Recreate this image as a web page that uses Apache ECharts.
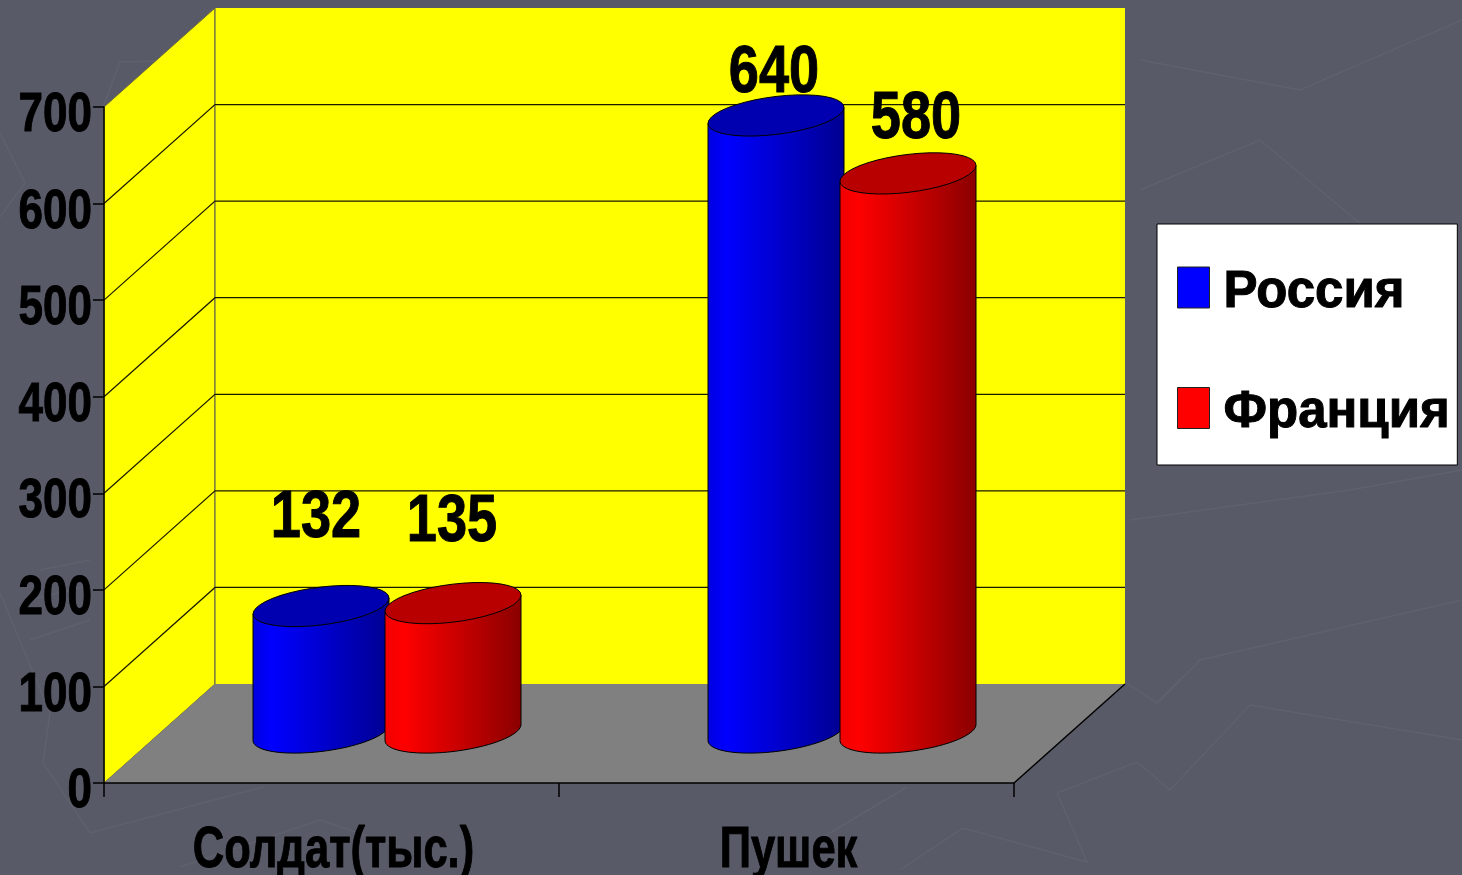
<!DOCTYPE html>
<html><head><meta charset="utf-8">
<style>html,body{margin:0;padding:0;background:#585a68}#c{width:1462px;height:875px}</style>
<script src="https://cdn.jsdelivr.net/npm/echarts@6/dist/echarts.min.js"></script>
</head><body><div id="c"></div>
<script>
const categories = ['Солдат(тыс.)', 'Пушек'];
const russia = [132, 640];
const france = [135, 580];
const yTicks = [0, 100, 200, 300, 400, 500, 600, 700];
const seriesNames = ['Россия', 'Франция'];

const FONT = '"Liberation Sans",Arial,sans-serif';
const DX = 111, DY = -99, RX = 68, RY = 19, TILT = 8, OFFSET = 66;
const labelShift = [[[-5, -87], [-1, -80]], [[-2, -42], [8, -54]]];

function squeezed(x, y, text, size, scale, align) {
  return { type: 'text', x: x, y: y, scaleX: scale, z2: 100, silent: true,
    style: { x: 0, y: 0, text: text, align: align, verticalAlign: 'middle', fill: '#000',
      stroke: '#000', lineWidth: 1, font: 'bold ' + size + 'px ' + FONT } };
}
function ellipsePts(cx, cy, from, to) {
  const pts = [], n = 40;
  for (let i = 0; i <= n; i++) {
    const t = from + (to - from) * i / n;
    pts.push([cx + RX * Math.cos(t), cy + RY * Math.sin(t) - TILT * Math.cos(t)]);
  }
  return pts;
}
function cylinder(seriesIdx, body, top) {
  return function (params, api) {
    const cat = api.value(0), v = api.value(1);
    const base = api.coord([cat, 0]), head = api.coord([cat, v]);
    const cx = base[0] + DX / 2 + (seriesIdx ? OFFSET : -OFFSET);
    const by = base[1] + DY / 2 - 1, ty = head[1] + DY / 2;
    const poly = [[cx - RX, ty + TILT]];
    for (let t = 0; t <= 40; t++) {
      const a = Math.PI - Math.PI * t / 40;
      poly.push([cx + RX * Math.cos(a), by + RY * Math.sin(a) - TILT * Math.cos(a)]);
    }
    poly.push([cx + RX, ty - TILT]);
    const shift = labelShift[cat][seriesIdx];
    return {
      type: 'group',
      children: [
        { type: 'polygon', shape: { points: poly }, style: {
            fill: { type: 'linear', x: 0, y: 0, x2: 1, y2: 0, colorStops: body },
            stroke: '#000', lineWidth: 1 } },
        { type: 'polygon', shape: { points: ellipsePts(cx, ty, 0, Math.PI * 2) },
          style: { fill: top, stroke: '#000', lineWidth: 1 } },
        squeezed(cx + shift[0], ty + shift[1], String(v), 66, 0.82, 'center')
      ]
    };
  };
}
function pairs(arr) { return arr.map((v, i) => [i, v]); }

const chart = echarts.init(document.getElementById('c'), null, { renderer: 'canvas' });
const faint = [
  [[0,593],[50,713],[43,763],[90,833],[263,787]],
  [[180,867],[320,820],[400,847]],
  [[0,133],[25,183],[0,217]],
  [[103,107],[120,62],[200,60]],
  [[1057,793],[1137,762],[1170,790],[1250,705],[1462,740]],
  [[1057,793],[1087,862],[963,828],[900,870]],
  [[823,837],[907,787]],
  [[1127,683],[1157,703],[1200,660],[1462,600]],
  [[1130,520],[1350,490],[1462,470]],
  [[1140,60],[1300,90],[1462,20]],
  [[1140,190],[1260,140],[1380,240]],
  [[30,640],[90,620]],[[30,600],[90,585]],[[40,570],[90,560]]
];
chart.setOption({
  backgroundColor: '#585a68',
  animation: false,
  graphic: faint.map(p => ({ type: 'polyline', silent: true, z: -10, shape: { points: p },
    style: { fill: null, stroke: '#5f616d', lineWidth: 1.5 } })),
  grid: { left: 104, right: 448, top: 107, bottom: 92, containLabel: false, outerBoundsMode: 'none' },
  xAxis: { type: 'category', data: categories, boundaryGap: true, z: 5,
    axisLine: { lineStyle: { color: '#000', width: 1.5 } },
    axisTick: { show: true, length: 14, alignWithLabel: false, lineStyle: { color: '#000', width: 1.5 } },
    axisLabel: { show: false } },
  yAxis: { type: 'value', min: 0, max: 700, interval: 100, z: 5,
    axisLine: { show: true, lineStyle: { color: '#000', width: 1.5 } },
    axisTick: { show: true, length: 11, lineStyle: { color: '#000', width: 1.5 } },
    splitLine: { show: false },
    axisLabel: { show: false } },
  legend: { show: true, left: 1157, top: 224, orient: 'vertical', selectedMode: false,
    data: seriesNames.map((n, i) => ({ name: n, icon: 'rect',
      itemStyle: { color: ['#0000ff', '#ff0000'][i], borderColor: '#222', borderWidth: 1 } })),
    backgroundColor: '#fff', borderColor: '#000', borderWidth: 1,
    padding: [33, 7, 26, 20], itemWidth: 32, itemHeight: 41, itemGap: 59,
    formatter: name => '{a|' + name + '}',
    textStyle: { rich: { a: { color: '#000', fontFamily: FONT, fontWeight: 'bold', fontSize: 51, lineHeight: 52,
      textBorderColor: '#000', textBorderWidth: 1, padding: [10, 0, 0, 9] } } } },
  series: [
    { type: 'custom', name: 'walls', silent: true, clip: false, z: 1, data: [[0, 700]],
      renderItem(params, api) {
        const g = params.coordSys;
        const l = g.x, r = g.x + g.width, t = g.y, b = g.y + g.height;
        return { type: 'group', children: [
          { type: 'polygon', shape: { points: [[l, b], [l + DX, b + DY], [l + DX, t + DY], [l, t]] }, style: { fill: '#ffff00', stroke: '#6b6b3a', lineWidth: 1 } },
          { type: 'polygon', shape: { points: [[l + DX, b + DY], [r + DX, b + DY], [r + DX, t + DY], [l + DX, t + DY]] }, style: { fill: '#ffff00', stroke: null } },
          { type: 'polygon', shape: { points: [[l, b], [r, b], [r + DX, b + DY], [l + DX, b + DY]] }, style: { fill: '#808080', stroke: null } },
          { type: 'line', shape: { x1: r, y1: b, x2: r + DX, y2: b + DY }, style: { stroke: '#000', lineWidth: 1.5 } },
          { type: 'line', shape: { x1: l + DX, y1: b + DY, x2: l + DX, y2: t + DY }, style: { stroke: '#555', lineWidth: 1 } }
        ] };
      } },
    { type: 'custom', name: 'gridlines', silent: true, clip: false, z: 2,
      data: yTicks.filter(v => v > 0 && v < 700).map(v => [0, v]),
      renderItem(params, api) {
        const g = params.coordSys, y = api.coord([0, api.value(1)])[1];
        return { type: 'polyline', shape: { points: [[g.x, y], [g.x + DX, y + DY], [g.x + g.width + DX, y + DY]] },
          style: { fill: null, stroke: '#1a1a00', lineWidth: 1.2 } };
      } },
    { type: 'custom', name: seriesNames[0], clip: false, z: 3, data: pairs(russia), encode: { x: 0, y: 1 },
      itemStyle: { color: '#0000ff' },
      renderItem: cylinder(0, [{ offset: 0, color: '#0000e0' }, { offset: 0.14, color: '#0000ff' }, { offset: 1, color: '#000090' }], '#0000b0') },
    { type: 'custom', name: seriesNames[1], clip: false, z: 4, data: pairs(france), encode: { x: 0, y: 1 },
      itemStyle: { color: '#ff0000' },
      renderItem: cylinder(1, [{ offset: 0, color: '#f00000' }, { offset: 0.14, color: '#ff0000' }, { offset: 1, color: '#8a0000' }], '#b80000') },
    { type: 'custom', name: 'yLabels', silent: true, clip: false, z: 6,
      data: yTicks.map(v => [0, v]),
      renderItem(params, api) {
        const v = api.value(1), y = api.coord([0, v])[1];
        return squeezed(params.coordSys.x - 12, y + 9, String(v), 55, 0.8, 'right');
      } },
    { type: 'custom', name: 'xLabels', silent: true, clip: false, z: 6,
      data: categories.map((c, i) => [i, 0]),
      renderItem(params, api) {
        const i = api.value(0), p = api.coord([i, 0]);
        return squeezed(p[0] + 2, p[1] + 68, categories[i], 58, 0.75, 'center');
      } }
  ]
});
</script></body></html>
